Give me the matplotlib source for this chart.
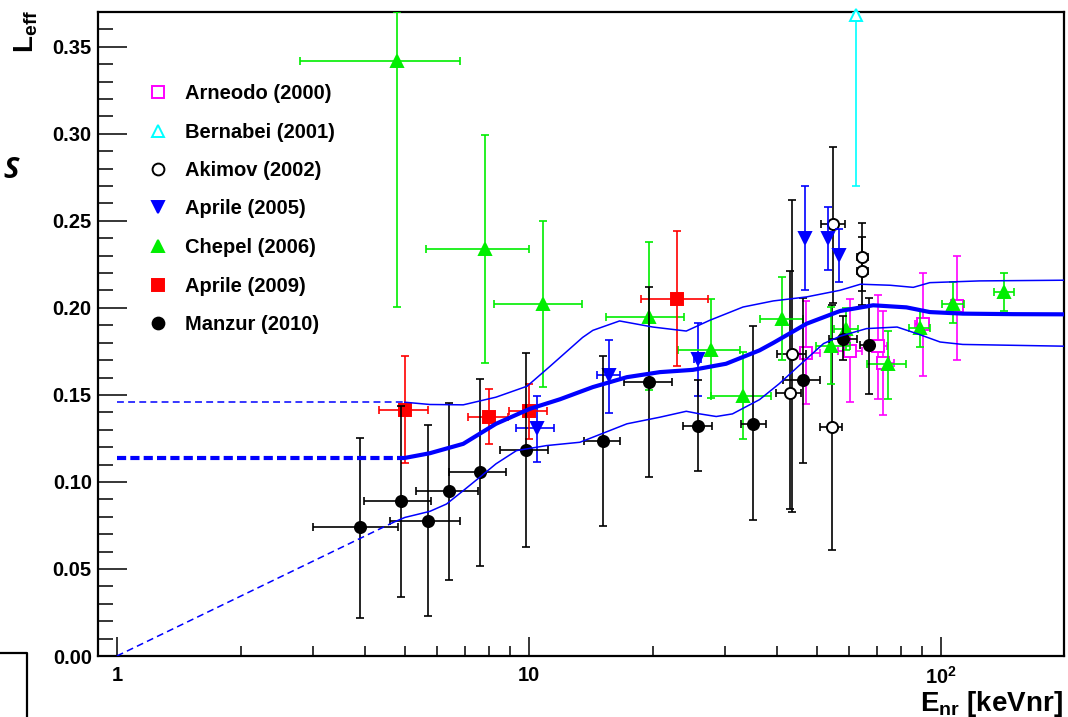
import numpy as np
import matplotlib
matplotlib.use('Agg')
import matplotlib.pyplot as plt
from matplotlib.lines import Line2D
from matplotlib.ticker import FixedLocator, FixedFormatter, MultipleLocator, FormatStrFormatter, NullFormatter

plt.rcParams['font.family'] = ['Liberation Sans', 'DejaVu Sans']
plt.rcParams['font.weight'] = 'bold'
plt.rcParams['mathtext.fontset'] = 'custom'
plt.rcParams['mathtext.rm'] = 'Liberation Sans:bold'
plt.rcParams['mathtext.bf'] = 'Liberation Sans:bold'
plt.rcParams['mathtext.it'] = 'Liberation Sans:bold:italic'

# ---------------- data ----------------
# Arneodo (2000)
arn_x = [47.0, 60.1, 70.2, 72.2, 90.3, 109.2]
arn_y = [0.1743, 0.1752, 0.1779, 0.1683, 0.1905, 0.2009]
arn_xlo = [43.8, 56.2, 68.0, 70.0, 86.6, 105.4]
arn_xhi = [51.0, 64.2, 73.8, 77.0, 93.6, 112.8]
arn_ylo = [0.1445, 0.1458, 0.1476, 0.1387, 0.1606, 0.1702]
arn_yhi = [0.2040, 0.2053, 0.2073, 0.1980, 0.2201, 0.2297]

# Bernabei (2001)
ber_x = [62.1]
ber_y = [0.368]
ber_xlo = [62.1]
ber_xhi = [62.1]
ber_ylo = [0.270]
ber_yhi = [0.370]

# Akimov (2002)
aki_x = [43.0, 43.6, 54.3, 54.8, 64.5, 64.5]
aki_y = [0.1512, 0.1737, 0.1314, 0.2480, 0.2293, 0.2212]
aki_xlo = [39.9, 40.0, 50.9, 51.3, 62.6, 62.6]
aki_xhi = [45.8, 47.0, 57.5, 58.6, 66.5, 66.5]
aki_ylo = [0.0844, 0.0825, 0.0608, 0.2027, 0.2097, 0.2017]
aki_yhi = [0.2212, 0.2620, 0.2015, 0.2926, 0.2489, 0.2407]

# Aprile (2005)
a05_x = [10.44, 15.64, 25.7, 46.9, 53.3, 56.5]
a05_y = [0.1309, 0.1612, 0.1708, 0.2402, 0.2402, 0.2303]
a05_xlo = [9.30, 14.6, 25.2, 46.9, 53.3, 56.5]
a05_xhi = [11.52, 16.6, 26.2, 46.9, 53.3, 56.5]
a05_ylo = [0.1117, 0.1395, 0.1491, 0.2101, 0.2220, 0.2149]
a05_yhi = [0.1493, 0.1813, 0.1913, 0.2700, 0.2581, 0.2456]

# Chepel (2006)
che_x = [4.79, 7.82, 10.83, 19.6, 27.7, 33.1, 41.1, 54.0, 58.8, 74.5, 88.9, 107.1, 142.2]
che_y = [0.3416, 0.2341, 0.2021, 0.1948, 0.1760, 0.1491, 0.1938, 0.1779, 0.1880, 0.1675, 0.1887, 0.2025, 0.2092]
che_xlo = [2.79, 5.62, 8.22, 15.38, 23.0, 27.7, 36.4, 49.9, 55.0, 66.0, 83.8, 100.4, 134.5]
che_xhi = [6.80, 10.0, 13.43, 23.8, 32.5, 38.8, 46.2, 60.1, 63.0, 82.5, 94.0, 113.7, 150.4]
che_ylo = [0.2005, 0.1683, 0.1545, 0.1526, 0.1483, 0.1247, 0.1702, 0.1564, 0.1760, 0.1474, 0.1775, 0.1913, 0.1982]
che_yhi = [0.3700, 0.2995, 0.2500, 0.2379, 0.2050, 0.1746, 0.2178, 0.2005, 0.2000, 0.1867, 0.1990, 0.2149, 0.2201]

# Aprile (2009)
a09_x = [5.00, 8.01, 10.0, 22.9]
a09_y = [0.1414, 0.1376, 0.1405, 0.2053]
a09_xlo = [4.32, 7.10, 8.94, 18.7]
a09_xhi = [5.68, 8.91, 11.04, 27.2]
a09_ylo = [0.1107, 0.1219, 0.1247, 0.1664]
a09_yhi = [0.1721, 0.1535, 0.1564, 0.2441]

# Manzur (2010)
man_x = [3.9, 4.89, 5.70, 6.39, 7.60, 9.82, 15.1, 19.6, 25.7, 34.9, 46.2, 57.9, 66.9]
man_y = [0.0739, 0.0888, 0.0777, 0.0950, 0.1059, 0.1186, 0.1236, 0.1576, 0.1324, 0.1334, 0.1583, 0.1823, 0.1785]
man_xlo = [2.99, 3.99, 4.60, 5.31, 6.39, 8.50, 13.6, 17.0, 23.7, 32.8, 41.3, 53.5, 63.6]
man_xhi = [4.80, 5.78, 6.80, 7.51, 8.79, 11.14, 16.63, 22.2, 27.8, 37.6, 51.0, 62.6, 68.5]
man_ylo = [0.0221, 0.0340, 0.0230, 0.0439, 0.0518, 0.0629, 0.0748, 0.1027, 0.1065, 0.0781, 0.1107, 0.1698, 0.1504]
man_yhi = [0.1253, 0.1439, 0.1326, 0.1455, 0.1593, 0.1743, 0.1721, 0.2120, 0.1583, 0.1894, 0.2059, 0.1953, 0.2059]

# global fit band
center_x = [5.0, 5.75, 6.93, 8.32, 10.05, 11.9, 14.3, 17.3, 20.8, 25.0, 30.1, 36.3, 39.2, 47.2, 56.9, 68.5, 82.5, 94, 113, 150, 199]
center_y = [0.1138, 0.1165, 0.1219, 0.1334, 0.1420, 0.1475, 0.1545, 0.1602, 0.1631, 0.1644, 0.1679, 0.1756, 0.1799, 0.1909, 0.1982, 0.2015, 0.2003, 0.1976, 0.1967, 0.1964, 0.1963]
upper_x = [5.0, 5.75, 6.93, 8.32, 9.9, 11.2, 13.5, 14.3, 16.6, 20.0, 24.1, 27.5, 33.1, 39.2, 47.2, 56.9, 63.8, 75.4, 85.7, 94, 124, 199]
upper_y = [0.1458, 0.1445, 0.1443, 0.1487, 0.1550, 0.1660, 0.1830, 0.1871, 0.1925, 0.1890, 0.1867, 0.1929, 0.2005, 0.2040, 0.2063, 0.2101, 0.2136, 0.2130, 0.2118, 0.2145, 0.2155, 0.2159]
lower_x = [4.68, 5.0, 5.75, 6.31, 6.93, 7.6, 8.32, 9.33, 11.04, 13.3, 14.3, 17.3, 20.8, 24.1, 26.0, 28.5, 31.2, 36.3, 40.5, 45.8, 51.9, 56.9, 66, 78.3, 87.5, 99.6, 113, 199]
lower_y = [0.0767, 0.0796, 0.0831, 0.0873, 0.0950, 0.1027, 0.1104, 0.1180, 0.1209, 0.1228, 0.1257, 0.1334, 0.1372, 0.1406, 0.1391, 0.1376, 0.1391, 0.1473, 0.1564, 0.1679, 0.1795, 0.1837, 0.1881, 0.1890, 0.1852, 0.1804, 0.1790, 0.1780]
dash_start_x = 1.0
lower_dash_start_y = 0.0

x_major = [1, 10, 100]
x_major_labels = ['1', '10', r'$\mathbf{10^{2}}$']
x_minor = [2, 3, 4, 5, 6, 7, 8, 9, 20, 30, 40, 50, 60, 70, 80, 90]

legend_labels = ['Arneodo (2000)', 'Bernabei (2001)', 'Akimov (2002)', 'Aprile (2005)',
                 'Chepel (2006)', 'Aprile (2009)', 'Manzur (2010)']

# ---------------- figure ----------------
W, H = 1068, 717
fig = plt.figure(figsize=(W / 100, H / 100), dpi=100)
ax = fig.add_axes([98 / W, 1 - 656 / H, (1064 - 98) / W, (656 - 12) / H])
ax.set_xscale('log')
ax.set_xlim(0.9, 199)
ax.set_ylim(0, 0.37)

BLUE = '#0000FF'
GREEN = '#00EE00'
RED = '#FF0000'
MAG = '#FF00FF'
CYAN = '#00FFFF'
BLACK = '#000000'


def draw(x, y, xlo, xhi, ylo, yhi, color, marker, ms, filled, z, clip=True):
    x = np.asarray(x); y = np.asarray(y)
    xerr = [x - np.asarray(xlo), np.asarray(xhi) - x]
    yerr = [y - np.asarray(ylo), np.asarray(yhi) - y]
    ax.errorbar(x, y, xerr=xerr, yerr=yerr, fmt='none', ecolor=color,
                elinewidth=1.2, capsize=2.6, capthick=1.2, zorder=z)
    ax.plot(x, y, linestyle='none', marker=marker, ms=ms,
            mfc=color if filled else 'white', mec=color, mew=1.4,
            zorder=z + 0.5, clip_on=clip)


series = [
    (arn_x, arn_y, arn_xlo, arn_xhi, arn_ylo, arn_yhi, MAG, 's', 8, False),
    (ber_x, ber_y, ber_xlo, ber_xhi, ber_ylo, ber_yhi, CYAN, '^', 9, False),
    (aki_x, aki_y, aki_xlo, aki_xhi, aki_ylo, aki_yhi, BLACK, 'o', 8, False),
    (a05_x, a05_y, a05_xlo, a05_xhi, a05_ylo, a05_yhi, BLUE, 'v', 8, True),
    (che_x, che_y, che_xlo, che_xhi, che_ylo, che_yhi, GREEN, '^', 8, True),
    (a09_x, a09_y, a09_xlo, a09_xhi, a09_ylo, a09_yhi, RED, 's', 8, True),
    (man_x, man_y, man_xlo, man_xhi, man_ylo, man_yhi, BLACK, 'o', 8, True),
]
for i, s in enumerate(series):
    draw(*s, z=3 + i, clip=(i != 1))

# fit band
ax.plot(center_x, center_y, color=BLUE, lw=3.0, zorder=20, solid_capstyle='butt',
        solid_joinstyle='round')
ax.plot(upper_x, upper_y, color=BLUE, lw=1.1, zorder=20, solid_joinstyle='round')
ax.plot(lower_x, lower_y, color=BLUE, lw=1.1, zorder=20, solid_joinstyle='round')
ax.plot([dash_start_x, center_x[0]], [center_y[0], center_y[0]], color=BLUE, lw=3.0,
        ls=(0, (2.2, 1.0)), zorder=20)
ax.plot([dash_start_x, upper_x[0]], [upper_y[0], upper_y[0]], color=BLUE, lw=1.1,
        ls=(0, (4.5, 2.8)), zorder=20)
ax.plot([dash_start_x, lower_x[0]], [lower_dash_start_y, lower_y[0]], color=BLUE, lw=1.1,
        ls=(0, (4.5, 2.8)), zorder=20)

# axes styling
ax.xaxis.set_major_locator(FixedLocator(x_major))
ax.xaxis.set_major_formatter(FixedFormatter(x_major_labels))
ax.xaxis.set_minor_locator(FixedLocator(x_minor))
ax.xaxis.set_minor_formatter(NullFormatter())
ax.yaxis.set_major_locator(MultipleLocator(0.05))
ax.yaxis.set_major_formatter(FormatStrFormatter('%.2f'))
ax.yaxis.set_minor_locator(MultipleLocator(0.01))
ax.tick_params(axis='both', which='both', direction='in', top=False, right=False, color='black')
ax.tick_params(axis='y', which='major', length=21, width=1.1, pad=4.5, labelsize=14.5)
ax.tick_params(axis='y', which='minor', length=10.8, width=1.1)
ax.tick_params(axis='x', which='major', length=13.7, width=1.1, pad=7, labelsize=14.5)
ax.tick_params(axis='x', which='minor', length=7.2, width=1.1)
for sp in ax.spines.values():
    sp.set_linewidth(1.6)

# axis titles (ROOT style)
fig.text(1063 / W, 1 - 711 / H, r'$\mathbf{E_{nr}}$ [keVnr]', ha='right', va='baseline',
         fontsize=20, fontweight='bold')
fig.text(12 / W, 1 - 10 / H, r'$\mathbf{L_{eff}}$', ha='left', va='top', rotation=90,
         fontsize=20, fontweight='bold')

# manual legend
leg_style = [(MAG, 's', False), (CYAN, '^', False), (BLACK, 'o', False), (BLUE, 'v', True),
             (GREEN, '^', True), (RED, 's', True), (BLACK, 'o', True)]
for i, (lab, (c, m, f)) in enumerate(zip(legend_labels, leg_style)):
    base = 99 + i * 38.5
    fig.add_artist(Line2D([158 / W], [1 - (base - 7) / H], transform=fig.transFigure,
                          marker=m, ms=8.5, mfc=c if f else 'white', mec=c, mew=1.4,
                          linestyle='none'))
    fig.text(185 / W, 1 - base / H, lab, ha='left', va='baseline', fontsize=14.5,
             fontweight='bold')

# stray elements from the source page
fig.text(3 / W, 1 - 178 / H, 'S', ha='left', va='baseline', fontsize=21,
         fontweight='bold', style='italic', family=['Open Sans', 'Liberation Sans'])
fig.add_artist(Line2D([0, 27 / W, 27 / W], [1 - 653 / H, 1 - 653 / H, 0],
                      transform=fig.transFigure, color='black', lw=1.6))

fig.savefig('out.png', dpi=100)
